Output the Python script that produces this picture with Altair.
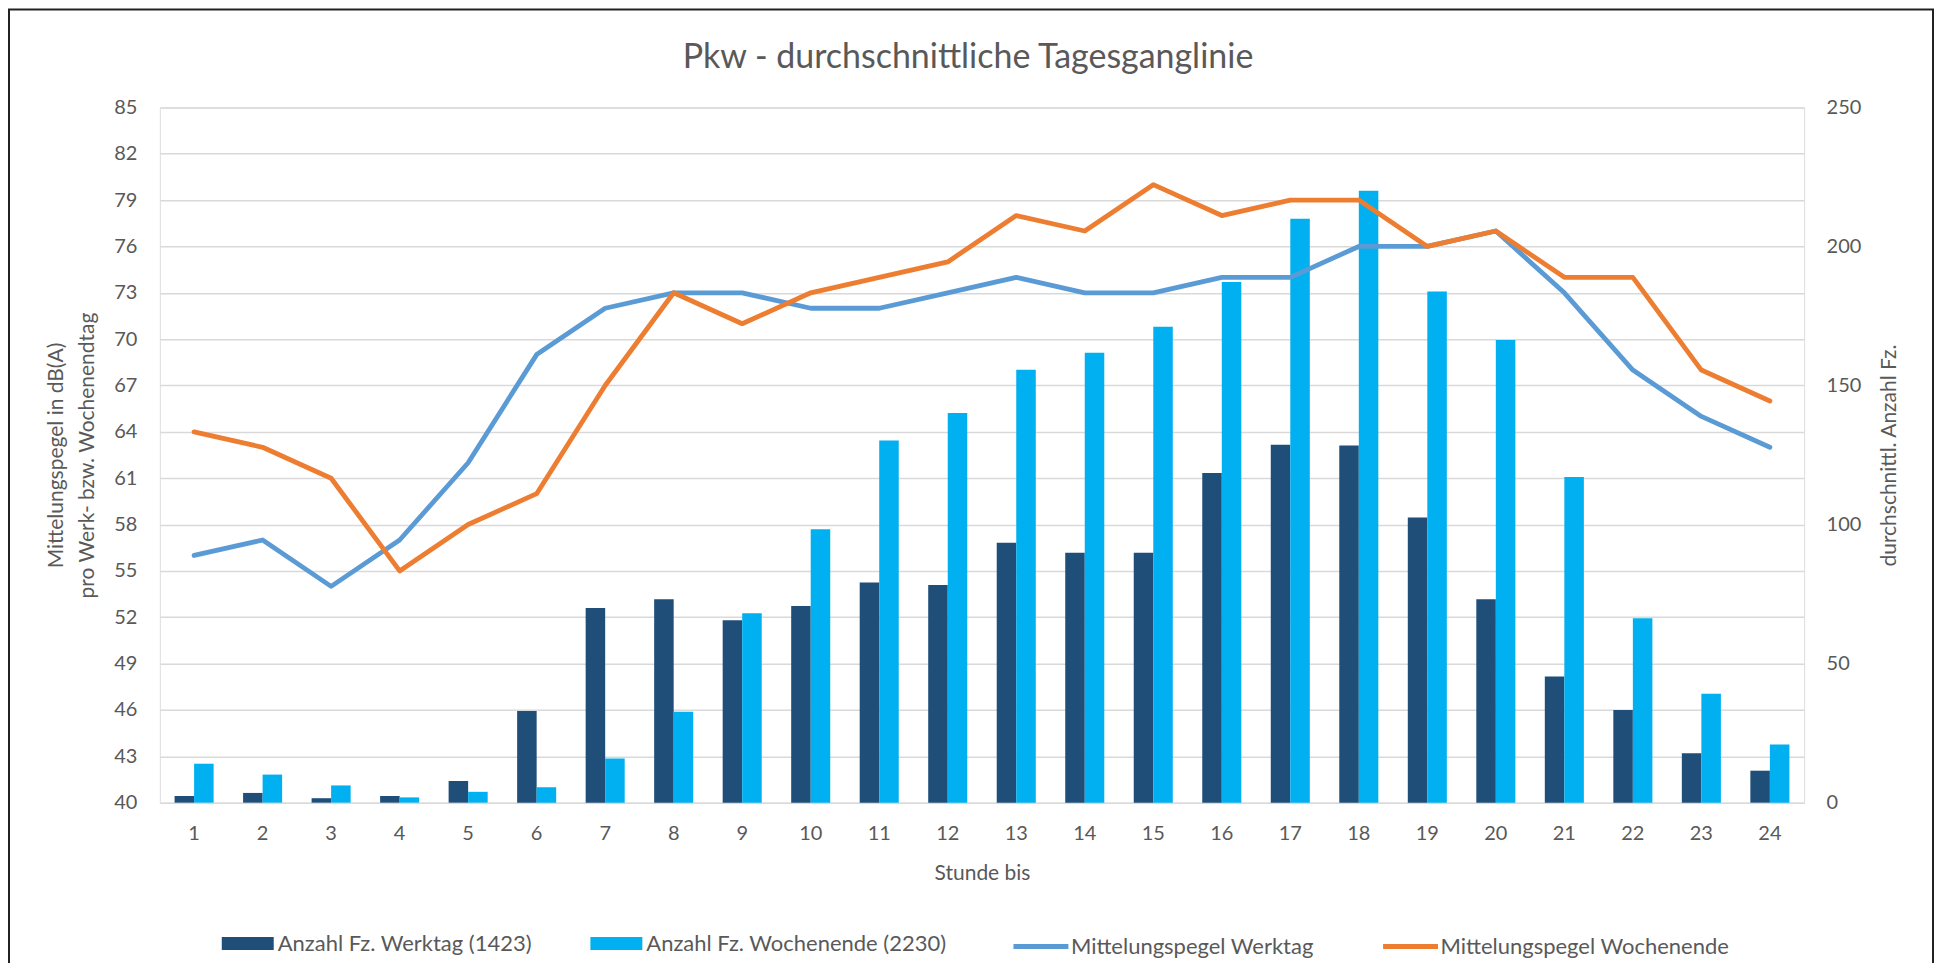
import altair as alt
import pandas as pd

# ---- data ----
hours = list(range(1, 25))

anzahl_werktag = [2.4, 3.5, 1.6, 2.4, 7.8, 33.0, 70.0, 73.1, 65.6, 70.7, 79.2, 78.3,
                  93.5, 89.9, 89.9, 118.5, 128.7, 128.4, 102.5, 73.1, 45.4, 33.3, 17.8, 11.5]
anzahl_wochenende = [14.0, 10.1, 6.2, 1.9, 3.9, 5.5, 15.9, 32.7, 68.1, 98.3, 130.2, 140.1,
                     155.7, 161.8, 171.1, 187.2, 210.0, 220.0, 183.8, 166.4, 117.1, 66.3, 39.2, 20.9]

pegel_werktag = [56, 57, 54, 57, 62, 69, 72, 73, 73, 72, 72, 73,
                 74, 73, 73, 74, 74, 76, 76, 77, 73, 68, 65, 63]
pegel_wochenende = [64, 63, 61, 55, 58, 60, 67, 73, 71, 73, 74, 75,
                    78, 77, 80, 78, 79, 79, 76, 77, 74, 74, 68, 66]

chart_title = "Pkw - durchschnittliche Tagesganglinie"
bar_series = ["Anzahl Fz. Werktag (1423)", "Anzahl Fz. Wochenende (2230)"]
line_series = ["Mittelungspegel Werktag", "Mittelungspegel Wochenende"]
bar_colors = ["#1F4E79", "#00B0F0"]
line_colors = ["#5B9BD5", "#ED7D31"]

db_ticks = list(range(40, 86, 3))
count_ticks = [0, 50, 100, 150, 200, 250]

FONT = "Lato"
TXT = "#595959"
GRID = "#D9D9D9"

bars_df = pd.DataFrame({
    "Stunde": hours + hours,
    "Serie": [bar_series[0]] * len(hours) + [bar_series[1]] * len(hours),
    "Anzahl": anzahl_werktag + anzahl_wochenende,
})
lines_df = pd.DataFrame({
    "Stunde": hours + hours,
    "Linie": [line_series[0]] * len(hours) + [line_series[1]] * len(hours),
    "Pegel": pegel_werktag + pegel_wochenende,
})

x_enc = alt.X(
    "Stunde:O",
    scale=alt.Scale(paddingInner=0.43, paddingOuter=0.215),
    axis=alt.Axis(
        title="Stunde bis", labelAngle=0, ticks=False, tickSize=0, domain=False,
        labelPadding=21, labelFont=FONT, labelFontSize=20, labelColor=TXT,
        titleFont=FONT, titleFontSize=21, titleFontWeight="normal", titleColor=TXT,
        titleY=71, titleBaseline="middle",
    ),
)

bars = alt.Chart(bars_df).mark_bar().encode(
    x=x_enc,
    xOffset=alt.XOffset("Serie:N", sort=bar_series,
                        scale=alt.Scale(paddingInner=0, paddingOuter=0)),
    y=alt.Y(
        "Anzahl:Q",
        scale=alt.Scale(domain=[0, 250], nice=False),
        axis=alt.Axis(
            orient="right", values=count_ticks, grid=False, ticks=False, tickSize=0,
            domain=False, labelPadding=22, labelFont=FONT, labelFontSize=20,
            labelColor=TXT, title="durchschnittl. Anzahl Fz.", titleFont=FONT,
            titleFontSize=21, titleFontWeight="normal", titleColor=TXT,
            titleAngle=270, titleX=85, titleY=348, titleAlign="center",
            titleBaseline="middle",
        ),
    ),
    color=alt.Color(
        "Serie:N",
        scale=alt.Scale(domain=bar_series, range=bar_colors),
        legend=alt.Legend(
            orient="none", legendX=62, legendY=811, direction="horizontal",
            title=None, symbolType="M-1,-0.25H1V0.25H-1Z", symbolSize=2704,
            symbolStrokeWidth=0, columnPadding=58, labelOffset=4,
            labelFont=FONT, labelFontSize=22, labelColor=TXT, labelLimit=400,
        ),
    ),
)

lines = alt.Chart(lines_df).mark_line(
    strokeWidth=4.8, strokeCap="round", strokeJoin="round"
).encode(
    x=x_enc,
    y=alt.Y(
        "Pegel:Q",
        scale=alt.Scale(domain=[40, 85], nice=False, zero=False),
        axis=alt.Axis(
            orient="left", values=db_ticks, grid=True, gridColor=GRID, gridWidth=1.5,
            ticks=False, tickSize=0, domain=False, labelPadding=23,
            labelFont=FONT, labelFontSize=20, labelColor=TXT,
            title=["Mittelungspegel in dB(A)", "pro Werk- bzw. Wochenendtag"],
            titleFont=FONT, titleFontSize=21, titleFontWeight="normal",
            titleColor=TXT, titleAngle=270, titleX=-114, titleY=348,
            titleAlign="center", titleBaseline="top", titleLineHeight=31,
        ),
    ),
    stroke=alt.Stroke(
        "Linie:N",
        scale=alt.Scale(domain=line_series, range=line_colors),
        legend=alt.Legend(
            orient="none", legendX=852, legendY=810, direction="horizontal",
            title=None, symbolType="stroke", symbolSize=3025, symbolStrokeWidth=5,
            columnPadding=58, labelOffset=0,
            labelFont=FONT, labelFontSize=22, labelColor=TXT, labelLimit=400,
        ),
    ),
)

title_text = alt.Chart(alt.Data(values=[{"t": chart_title}])).mark_text(
    font=FONT, fontSize=34, color=TXT, align="center", baseline="alphabetic"
).encode(
    text="t:N", x=alt.value(809), y=alt.value(-39)
)

frame = alt.Chart(alt.Data(values=[{"f": 1}])).mark_rect(
    fillOpacity=0, stroke="#222222", strokeWidth=2
).encode(
    x=alt.value(-151), x2=alt.value(1775), y=alt.value(-98), y2=alt.value(900)
)

chart = alt.layer(bars, lines, title_text, frame).resolve_scale(
    y="independent"
).properties(
    width=1646,
    height=696,
    autosize=alt.AutoSizeParams(type="none"),
    padding={"left": 152, "top": 99, "right": 132, "bottom": 160},
).configure_view(stroke=None).configure(background="white")

chart.save("out.html", embed_options={"renderer": "svg", "actions": False})
